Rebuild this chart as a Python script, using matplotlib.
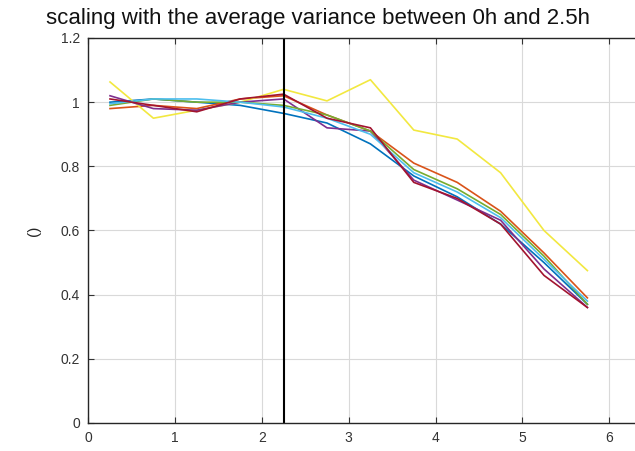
import numpy as np
import matplotlib.pyplot as plt

# time points (hours)
t = [0.25, 0.75, 1.25, 1.75, 2.25, 2.75, 3.25, 3.75, 4.25, 4.75, 5.25, 5.75]

# scaled variance per series
s_blue = [1.00, 1.01, 1.00, 0.99, 0.965, 0.935, 0.87, 0.77, 0.705, 0.62, 0.50, 0.37]
s_orange = [0.98, 0.99, 0.98, 1.01, 1.02, 0.96, 0.91, 0.81, 0.75, 0.66, 0.53, 0.39]
s_yellow = [1.063, 0.95, 0.975, 1.00, 1.04, 1.004, 1.07, 0.913, 0.885, 0.78, 0.60, 0.475]
s_purple = [1.02, 0.98, 0.975, 1.00, 1.01, 0.92, 0.91, 0.757, 0.695, 0.632, 0.48, 0.36]
s_green = [0.99, 1.01, 1.00, 1.00, 0.99, 0.96, 0.91, 0.79, 0.73, 0.65, 0.52, 0.37]
s_lblue = [0.995, 1.01, 1.01, 1.00, 0.985, 0.95, 0.90, 0.78, 0.72, 0.64, 0.51, 0.38]
s_dred = [1.01, 0.99, 0.97, 1.01, 1.025, 0.95, 0.92, 0.75, 0.70, 0.62, 0.46, 0.36]

series = [s_blue, s_orange, s_yellow, s_purple, s_green, s_lblue, s_dred]
colors = ['#0072BD', '#D95319', '#F2E840', '#7E2F8E', '#77AC30', '#4DBEEE', '#A2142F']

t_split = 2.25

plt.rcParams['font.family'] = ['Liberation Sans', 'DejaVu Sans']

fig = plt.figure(figsize=(6.35, 4.51), dpi=100)
ax = fig.add_axes([88.3 / 635, 28 / 451, 6.5 * 86.8 / 635, 385 / 451])

for s, c in zip(series, colors):
    ax.plot(t, s, color=c, lw=1.2)

ax.axvline(t_split, color='black', lw=1.5)

ax.set_xlim(0, 6.5)
ax.set_ylim(0, 1.2)
ax.set_xticks([0, 1, 2, 3, 4, 5, 6])
ax.set_yticks([0, 0.2, 0.4, 0.6, 0.8, 1.0, 1.2])
ax.set_yticklabels(['0', '0.2', '0.4', '0.6', '0.8', '1', '1.2'])
ax.grid(True, color='#d9d9d9', lw=0.8)
ax.tick_params(direction='in', top=True, right=True, labelsize=10,
               colors='#333333', length=4, pad=6)
for sp in ax.spines.values():
    sp.set_color('#262626')
    sp.set_linewidth(1.0)

ax.set_ylabel('()', fontsize=11, color='#262626', labelpad=14)
fig.text(0.5, 0.958, 'scaling with the average variance between 0h and 2.5h',
         ha='center', va='center', fontsize=16, color='#111111')

fig.savefig('out.png', dpi=100)
